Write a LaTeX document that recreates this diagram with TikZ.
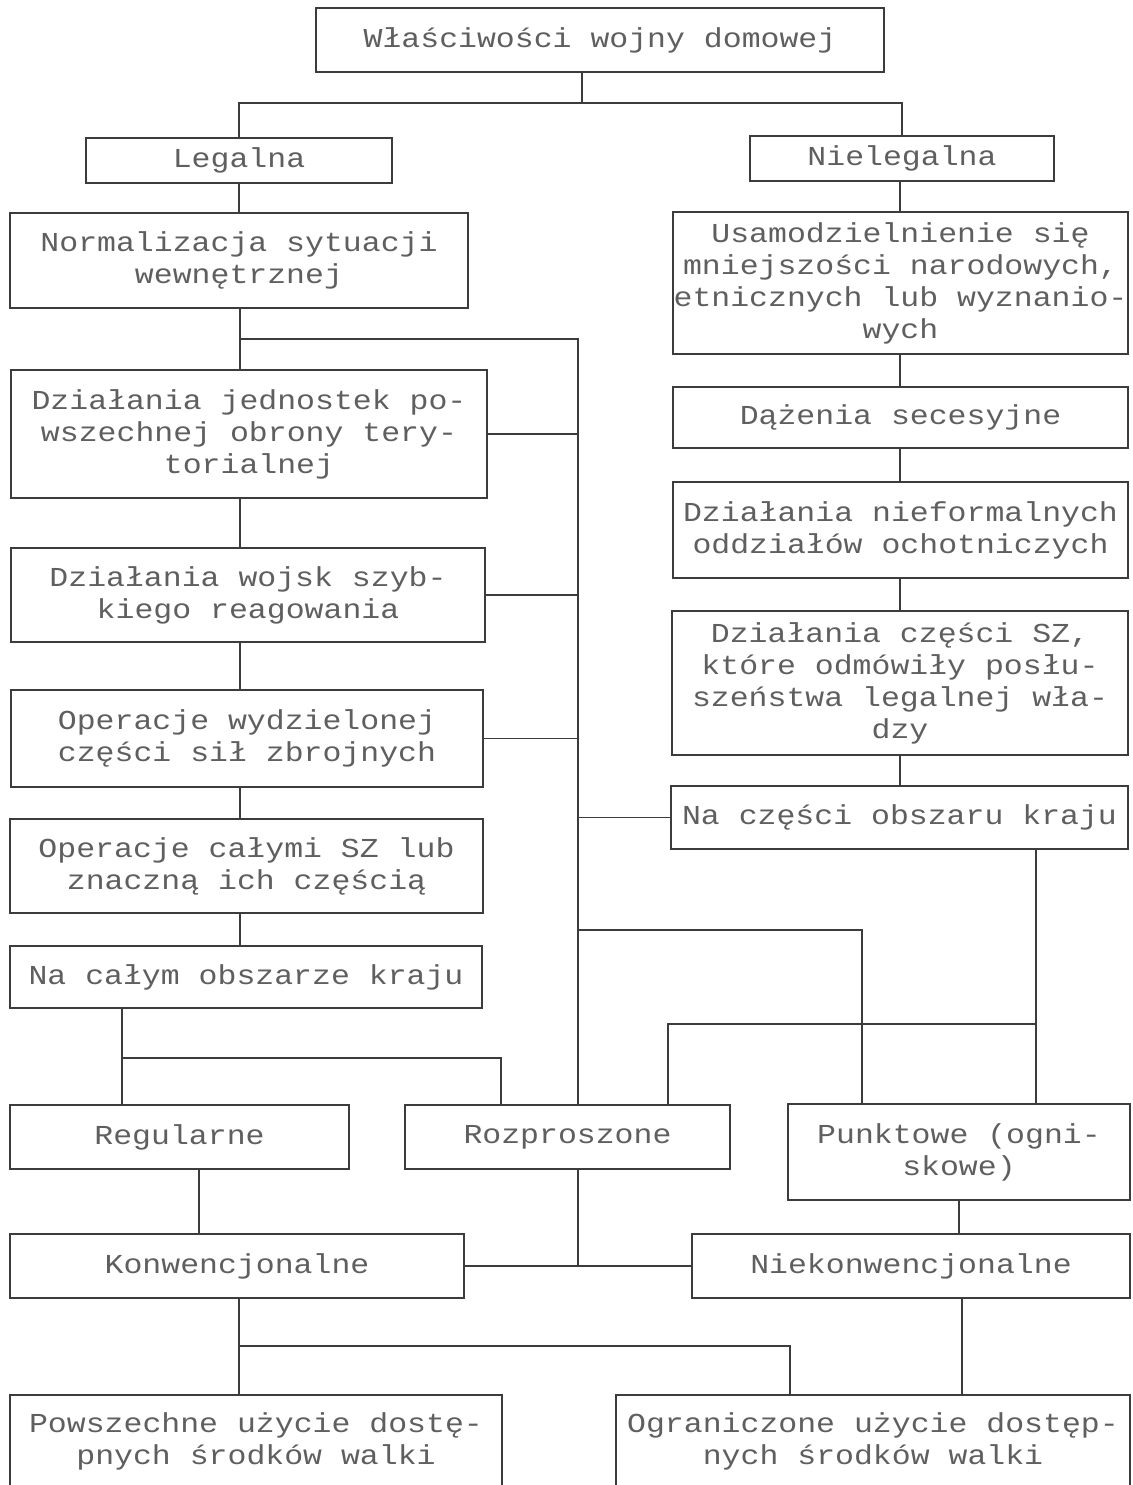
\documentclass[tikz,border=0pt]{standalone}
\usepackage{fontspec}
\setmainfont{Liberation Mono}[FakeStretch=1.15]
\usepackage{xcolor}
\usepackage{tikz}
\definecolor{ink}{RGB}{60,60,60}
\definecolor{dots}{RGB}{95,95,95}

\begin{document}
\begin{tikzpicture}[x=0.5pt,y=-0.5pt]
	\tikzstyle{bx} = [draw=ink,line width=0.8pt,inner sep=0pt,align=center,text=dots,font=\fontsize{13.7}{16}\selectfont];
	\tikzstyle{ln} = [draw=ink,line width=0.8pt];
	\useasboundingbox [fill=white] (0,0) rectangle (1132,1485);
	\node (top) at (600,40) [bx,minimum width=284pt,minimum height=32pt] {Właściwości wojny domowej};
	\node (legal) at (239,160.5) [bx,minimum width=153pt,minimum height=22.5pt] {Legalna};
	\node (illegal) at (902,158.5) [bx,minimum width=152pt,minimum height=22.5pt] {Nielegalna};
	\node (norm) at (239,260.5) [bx,minimum width=229pt,minimum height=47.5pt] {Normalizacja sytuacji\\wewnętrznej};
	\node (indep) at (900.5,283) [bx,minimum width=227.5pt,minimum height=71pt] {Usamodzielnienie się\\mniejszości narodowych,\\etnicznych lub wyznanio-\\wych};
	\node (terr) at (249,434) [bx,minimum width=238pt,minimum height=64pt] {Działania jednostek po-\\wszechnej obrony tery-\\torialnej};
	\node (secess) at (900.5,417.5) [bx,minimum width=227.5pt,minimum height=30.5pt] {Dążenia secesyjne};
	\node (volunt) at (900.5,530) [bx,minimum width=227.5pt,minimum height=48pt] {Działania nieformalnych\\oddziałów ochotniczych};
	\node (rapid) at (248,595) [bx,minimum width=237pt,minimum height=47pt] {Działania wojsk szyb-\\kiego reagowania};
	\node (mutiny) at (900,683) [bx,minimum width=228pt,minimum height=72pt] {Działania części SZ,\\które odmówiły posłu-\\szeństwa legalnej wła-\\dzy};
	\node (partops) at (247,738.5) [bx,minimum width=236pt,minimum height=48.5pt] {Operacje wydzielonej\\części sił zbrojnych};
	\node (partarea) at (899.5,817.5) [bx,minimum width=228.5pt,minimum height=31.5pt] {Na części obszaru kraju};
	\node (fullops) at (246.5,866) [bx,minimum width=236.5pt,minimum height=47pt] {Operacje całymi SZ lub\\znaczną ich częścią};
	\node (wholearea) at (246,977) [bx,minimum width=236pt,minimum height=31pt] {Na całym obszarze kraju};
	\node (regular) at (179.5,1137) [bx,minimum width=169.5pt,minimum height=32pt] {Regularne};
	\node (disp) at (567.5,1137) [bx,minimum width=162.5pt,minimum height=32pt] {Rozproszone};
	\node (point) at (959,1152) [bx,minimum width=171pt,minimum height=48pt] {Punktowe (ogni-\\skowe)};
	\node (conv) at (237,1266) [bx,minimum width=227pt,minimum height=32pt] {Konwencjonalne};
	\node (unconv) at (911,1266) [bx,minimum width=219pt,minimum height=32pt] {Niekonwencjonalne};
	\node (general) at (256,1441) [bx,minimum width=246pt,minimum height=46pt] {Powszechne użycie dostę-\\pnych środków walki};
	\node (limited) at (873,1441) [bx,minimum width=257pt,minimum height=46pt] {Ograniczone użycie dostęp-\\nych środków walki};
	\coordinate (topj) at (582,103);
	\coordinate (lsp) at (240,0);
	\coordinate (rsp) at (900,0);
	\coordinate (trk) at (578,339);
	\coordinate (pj) at (862,930);
	\coordinate (rj) at (1036,1024);
	\coordinate (dj) at (668,1024);
	\coordinate (wj) at (122,1058);
	\coordinate (wj2) at (501,1058);
	\coordinate (rgc) at (199,0);
	\coordinate (gj) at (239,1346);
	\coordinate (oj) at (790,1346);
	\coordinate (uj) at (962,0);
	\path [ln] (topj |- top.south) -- (topj);
	\path [ln] (legal) |- (topj) -| (illegal);
	\path [ln] (legal) -- (legal |- norm.north);
	\path [ln] (rsp |- illegal.south) -- (rsp |- indep.north);
	\path [ln] (lsp |- norm.south) -- (lsp |- terr.north);
	\path [ln] (lsp |- terr.south) -- (lsp |- rapid.north);
	\path [ln] (lsp |- rapid.south) -- (lsp |- partops.north);
	\path [ln] (lsp |- partops.south) -- (lsp |- fullops.north);
	\path [ln] (lsp |- fullops.south) -- (lsp |- wholearea.north);
	\path [ln] (rsp |- indep.south) -- (rsp |- secess.north);
	\path [ln] (rsp |- secess.south) -- (rsp |- volunt.north);
	\path [ln] (rsp |- volunt.south) -- (rsp |- mutiny.north);
	\path [ln] (rsp |- mutiny.south) -- (rsp |- partarea.north);
	\path [ln] (lsp |- trk) -- (trk) -- (trk |- disp.north);
	\path [ln] (terr.east) -- (terr.east -| trk);
	\path [ln] (rapid.east) -- (rapid.east -| trk);
	\path [ln] (partops.east) -- (partops.east -| trk);
	\path [ln] (partarea.west) -- (partarea.west -| trk);
	\path [ln] (trk |- pj) -- (pj) -- (pj |- point.north);
	\path [ln] (rj |- partarea.south) -- (rj |- point.north);
	\path [ln] (rj) -- (dj) -- (dj |- disp.north);
	\path [ln] (wj |- wholearea.south) -- (wj |- regular.north);
	\path [ln] (wj) -- (wj2) -- (wj2 |- disp.north);
	\path [ln] (rgc |- regular.south) -- (rgc |- conv.north);
	\path [ln] (conv) -- (unconv);
	\path [ln] (trk |- disp.south) -- (trk |- conv);
	\path [ln] (point.south) -- (point.south |- unconv.north);
	\path [ln] (gj |- conv.south) -- (gj |- general.north);
	\path [ln] (gj) -- (oj) -- (oj |- limited.north);
	\path [ln] (uj |- unconv.south) -- (uj |- limited.north);
\end{tikzpicture}
\end{document}
